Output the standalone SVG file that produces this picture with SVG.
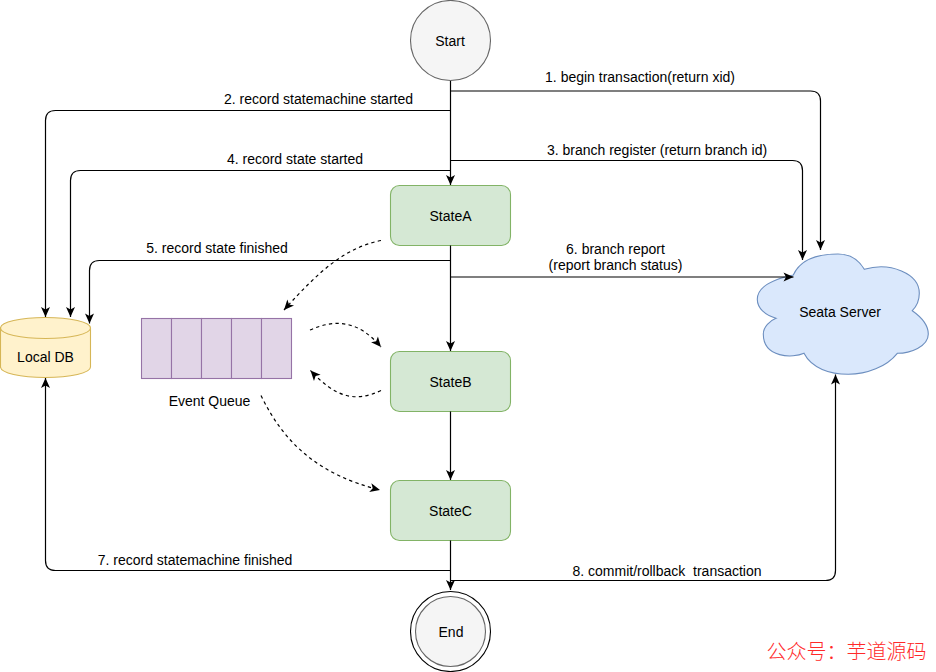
<svg xmlns="http://www.w3.org/2000/svg" width="936" height="672" viewBox="0 0 936 672">
<style>
text{font-family:"Liberation Sans",Arial,sans-serif;font-size:14px;fill:#000;text-anchor:middle;white-space:pre}
.c{fill:none;stroke:#000;stroke-width:1.2;marker-end:url(#a)}
.d{stroke-dasharray:3.3 3.3}
.s{fill:#d5e8d4;stroke:#82b366;stroke-width:1.1}
.q{fill:#e1d5e7;stroke:#9673a6;stroke-width:1.1}
.y{fill:#fff2cc;stroke:#d6b656;stroke-width:1.1}
.w{font-family:"Noto Sans CJK SC","Liberation Sans",sans-serif;font-size:20px;font-weight:300;fill:#ff2a2a;text-anchor:start}
</style>
<defs>
<marker id="a" markerUnits="userSpaceOnUse" markerWidth="12" markerHeight="10" refX="11" refY="5" orient="auto">
<path d="M1 0.5L11 5L1 9.5L3.5 5Z" fill="#000" stroke="none"/>
</marker>
</defs>
<rect width="936" height="672" fill="#fff"/>
<g id="start"><circle cx="450.5" cy="40.5" r="40" fill="#f5f5f5" stroke="#666" stroke-width="1.1"/><text x="450" y="45.500">Start</text></g>
<g id="stateA"><rect class="s" x="390.5" y="185.5" width="120" height="60" rx="9"/><text x="450.5" y="221">StateA</text></g>
<g id="stateB"><rect class="s" x="390.5" y="351.5" width="120" height="60" rx="9"/><text x="450.5" y="387">StateB</text></g>
<g id="stateC"><rect class="s" x="390.5" y="480.5" width="120" height="60" rx="9"/><text x="450.5" y="516">StateC</text></g>
<g id="end"><circle cx="450.5" cy="631.5" r="40" fill="#fff" stroke="#000" stroke-width="1.1"/><circle cx="450.5" cy="631.5" r="35" fill="#f5f5f5" stroke="#666" stroke-width="1.1"/><text x="451" y="637">End</text></g>
<g id="local-db"><path class="y" d="M0.5 328V367C0.5 373 20.500 377.500 45.500 377.500S90.500 373 90.500 367V328C90.500 322 70.500 317.500 45.500 317.500S0.500 322 0.500 328Z"/><path class="y" d="M0.500 328C0.500 334 20.500 338.500 45.500 338.500S90.500 334 90.500 328" fill="none"/><text x="45.500" y="362">Local DB</text></g>
<g id="event-queue"><rect class="q" x="141.500" y="318.500" width="30" height="60"/><rect class="q" x="171.500" y="318.500" width="30" height="60"/><rect class="q" x="201.500" y="318.500" width="30" height="60"/><rect class="q" x="231.500" y="318.500" width="30" height="60"/><rect class="q" x="261.500" y="318.500" width="30" height="60"/><text x="209.500" y="406">Event Queue</text></g>
<g id="seata-server"><path fill="#dae8fc" stroke="#6c8ebf" stroke-width="1.1" d="M793.3 275C801 258 820 254 838 254C852 254 860 262 864.3 269.300C890 261.700 919.300 273.300 919.300 293.300C919.300 300 917 306 912.300 310.700C921.700 317.300 928.300 325 928.300 334C928.300 346.700 910 353.300 897.300 353.300C886.700 366.700 866.700 374.300 848.300 374.300C830 374.300 811.700 368.300 804 353.300C793.300 358.300 763.300 358.300 763.300 334C763.300 326.700 770 320.700 776 318.300C765 315 757.300 308.300 757.300 299.300C757.300 287 772 279.500 793.300 275Z"/><text x="840" y="316.500">Seata Server</text></g>
<g id="connectors">
<path class="c" d="M450.5 81V185"/>
<path class="c" d="M450.5 91H810.5Q820.5 91 820.5 101V250"/>
<path class="c" d="M450.5 110.5H55.5Q45.5 110.5 45.5 120.5V317"/>
<path class="c" d="M450.5 160.5H792.5Q802.5 160.5 802.5 170.5V260"/>
<path class="c" d="M450.5 170.5H80.5Q70.5 170.5 70.5 180.5V317"/>
<path class="c" d="M450.5 260.5H99.5Q89.5 260.5 89.5 270.5V323.5"/>
<path class="c" d="M450.5 277H793.5"/>
<path class="c" d="M450.5 245.5V351"/>
<path class="c" d="M450.5 411.5V480"/>
<path class="c" d="M450.5 540.5V590"/>
<path class="c" d="M450.5 570.5H55.5Q45.5 570.5 45.5 560.5V378"/>
<path class="c" d="M450.5 580.5H825.5Q835.5 580.5 835.5 570.5V374.5"/>
<path class="c d" d="M381 240.5C345 248 320 270 284 310"/>
<path class="c d" d="M310 330C335 319 358 320 381 347"/>
<path class="c d" d="M381 390.5C355 403 335 397 310.5 370.5"/>
<path class="c d" d="M261 395.5C285 445 320 475 380 490"/>
</g>
<g id="labels">
<text x="640" y="81.500">1. begin transaction(return xid)</text>
<text x="318.500" y="103.500">2. record statemachine started</text>
<text x="657" y="155">3. branch register (return branch id)</text>
<text x="295" y="164">4. record state started</text>
<text x="217" y="253">5. record state finished</text>
<text x="615.500" y="254">6. branch report</text>
<text x="615.500" y="270">(report branch status)</text>
<text x="195" y="565">7. record statemachine finished</text>
<text x="667" y="576">8. commit/rollback  transaction</text>
<text class="w" x="766.500" y="659">公众号：芋道源码</text>
</g>
</svg>
